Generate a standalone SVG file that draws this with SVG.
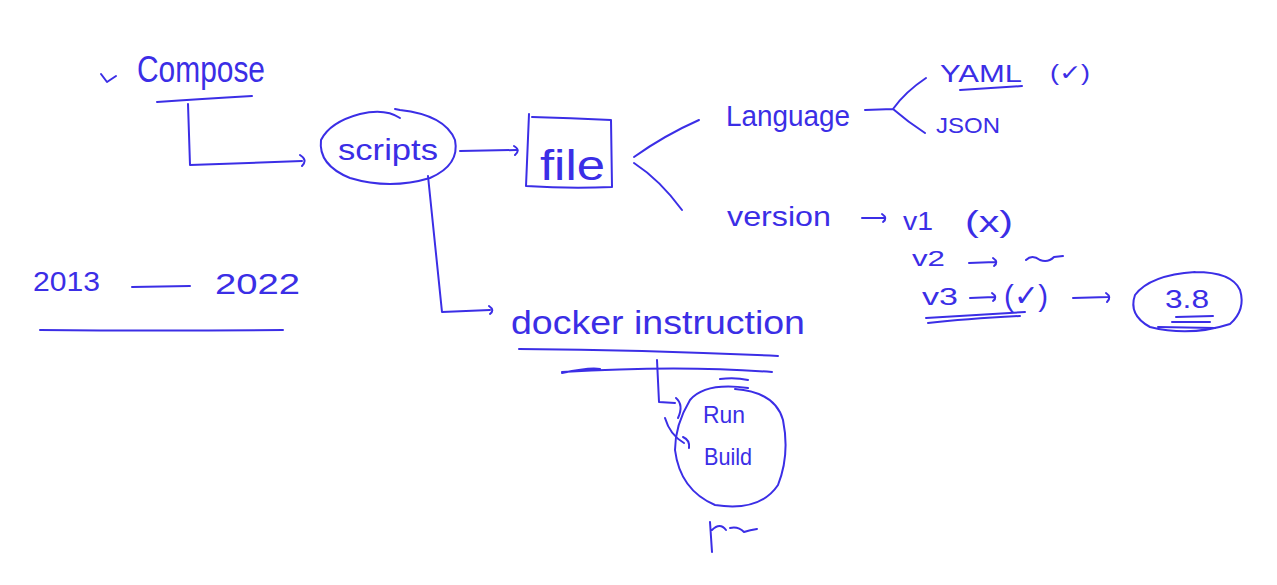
<svg xmlns="http://www.w3.org/2000/svg" width="1277" height="585" viewBox="0 0 1277 585">
<style>
.t{font-family:"Liberation Sans",Arial,sans-serif;fill:#3b2ee6;}
.s{fill:none;stroke:#3b2ee6;stroke-width:2;stroke-linecap:round;stroke-linejoin:round;}
</style>
<rect width="1277" height="585" fill="#ffffff"/>
<g id="compose">
<path class="s" d="M101,74 L107,82 L116,76"/>
<text class="t" x="137" y="82" font-size="36" textLength="128" lengthAdjust="spacingAndGlyphs">Compose</text>
<path class="s" d="M157,102 Q200,99 252,96"/>
</g>
<g id="scripts">
<path class="s" d="M400,118 Q385,108 360,114 Q330,122 321,140 Q318,165 350,178 Q390,190 430,178 Q460,165 455,140 Q445,115 400,110 L395,109"/>
<text class="t" x="338" y="160" font-size="30" textLength="100" lengthAdjust="spacingAndGlyphs">scripts</text>
</g>
<g id="file">
<path class="s" d="M529,114 L526,186 Q570,189 612,187 L611,120 Q570,118 532,117"/>
<text class="t" x="540" y="180" font-size="42" textLength="65" lengthAdjust="spacingAndGlyphs">file</text>
</g>
<g id="language">
<text class="t" x="726" y="126" font-size="30" textLength="124" lengthAdjust="spacingAndGlyphs">Language</text>
</g>
<g id="yaml">
<text class="t" x="940" y="82" font-size="24" textLength="82" lengthAdjust="spacingAndGlyphs">YAML</text>
<path class="s" d="M960,90 Q990,88 1022,86"/>
<text class="t" x="1050" y="80" font-size="22" textLength="40" lengthAdjust="spacingAndGlyphs">(✓)</text>
</g>
<g id="json">
<text class="t" x="936" y="133" font-size="22" textLength="64" lengthAdjust="spacingAndGlyphs">JSON</text>
</g>
<g id="version">
<text class="t" x="727" y="226" font-size="28" textLength="104" lengthAdjust="spacingAndGlyphs">version</text>
</g>
<g id="v1">
<text class="t" x="903" y="230" font-size="26" textLength="30" lengthAdjust="spacingAndGlyphs">v1</text>
<text class="t" x="965" y="232" font-size="30" textLength="48" lengthAdjust="spacingAndGlyphs">(x)</text>
</g>
<g id="v2">
<text class="t" x="912" y="266" font-size="22" textLength="33" lengthAdjust="spacingAndGlyphs">v2</text>
<path class="s" d="M1026,260 Q1032,254 1040,260 Q1048,263 1054,257 L1063,256"/>
</g>
<g id="v3">
<text class="t" x="922" y="305" font-size="24" textLength="36" lengthAdjust="spacingAndGlyphs">v3</text>
<text class="t" x="1004" y="306" font-size="30" textLength="44" lengthAdjust="spacingAndGlyphs">(✓)</text>
<path class="s" d="M926,318 Q975,315 1025,312 M928,323 Q965,319 1020,316"/>
</g>
<g id="v38">
<path class="s" d="M1195,272 Q1150,275 1135,295 Q1128,315 1150,327 Q1190,337 1230,324 Q1246,310 1240,290 Q1232,272 1195,272"/>
<text class="t" x="1165" y="308" font-size="26" textLength="44" lengthAdjust="spacingAndGlyphs">3.8</text>
<path class="s" d="M1176,317 L1213,316 M1172,322 L1210,322 M1158,327 L1215,328"/>
</g>
<g id="docker">
<text class="t" x="511" y="334" font-size="34" textLength="294" lengthAdjust="spacingAndGlyphs">docker instruction</text>
<path class="s" d="M519,349 Q650,350 778,356 M562,373 Q590,367 600,369 M562,372 Q680,365 772,372"/>
</g>
<g id="runbuild">
<path class="s" d="M748,388 Q705,382 690,400 Q675,425 675,450 Q680,490 715,505 Q760,512 778,485 Q790,455 783,420 Q775,392 735,389 M720,379 Q735,377 748,380"/>
<text class="t" x="703" y="423" font-size="24" textLength="42" lengthAdjust="spacingAndGlyphs">Run</text>
<text class="t" x="704" y="465" font-size="24" textLength="48" lengthAdjust="spacingAndGlyphs">Build</text>
<path class="s" d="M710,522 L712,552 M712,530 Q720,522 726,530 M730,528 Q738,526 744,532 Q750,530 757,529"/>
</g>
<g id="years">
<text class="t" x="33" y="291" font-size="28" textLength="67" lengthAdjust="spacingAndGlyphs">2013</text>
<path class="s" d="M132,287 L190,286"/>
<text class="t" x="215" y="294" font-size="30" textLength="85" lengthAdjust="spacingAndGlyphs">2022</text>
<path class="s" d="M40,330 Q160,331 283,330"/>
</g>
<g id="connectors">
<path class="s" d="M188,104 L190,165 L302,161 M300,155 Q308,160 302,166"/>
<path class="s" d="M460,151 L516,150 M514,146 Q521,150 515,155"/>
<path class="s" d="M634,157 Q665,135 699,120"/>
<path class="s" d="M634,163 Q660,180 682,210"/>
<path class="s" d="M865,110 L893,109 M926,78 Q905,92 893,109 Q908,122 925,133"/>
<path class="s" d="M862,218 L884,218 M882,214 Q888,218 883,222"/>
<path class="s" d="M969,263 L995,262 M993,258 Q999,262 994,266"/>
<path class="s" d="M970,298 L994,297 M992,293 Q998,297 993,301"/>
<path class="s" d="M1073,298 L1108,297 M1106,293 Q1112,297 1107,302"/>
<path class="s" d="M428,176 L442,312 L490,310 M489,306 Q495,310 490,314"/>
<path class="s" d="M657,360 L659,402 L675,403 M676,398 Q684,405 678,418"/>
<path class="s" d="M665,418 Q670,435 684,443 M683,437 Q690,440 689,448"/>
</g>
</svg>
